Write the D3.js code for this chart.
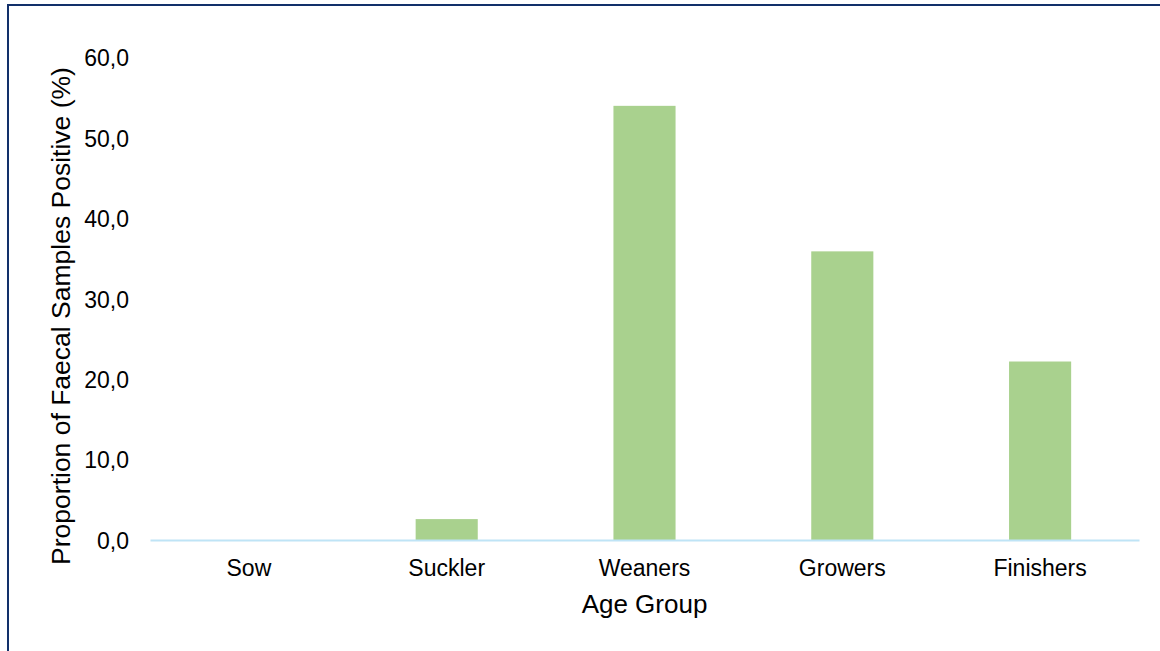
<!DOCTYPE html>
<html>
<head>
<meta charset="utf-8">
<script src="https://cdn.jsdelivr.net/npm/d3@7"></script>
<style>
  body { margin: 0; background: #fff; }
  text { font-family: "Liberation Sans", Arial, sans-serif; fill: #000; }
</style>
</head>
<body>
<div id="chart"></div>
<script>
// age groups and share of faecal samples positive (%)
var categories = ["Sow", "Suckler", "Weaners", "Growers", "Finishers"];
var values = [0.0, 2.6, 54.0, 35.9, 22.2];
var yTicks = [0, 10, 20, 30, 40, 50, 60];

var width = 1160, height = 651;
var margin = {left: 150, right: 21, top: 57.6, bottom: 111};

var svg = d3.select("#chart").append("svg")
  .attr("width", width)
  .attr("height", height);

// chart frame (runs off the right and bottom of the picture)
svg.append("rect")
  .attr("x", 8)
  .attr("y", 5)
  .attr("width", 1200)
  .attr("height", 700)
  .attr("fill", "none")
  .attr("stroke", "#12306a")
  .attr("stroke-width", 2);

var x = d3.scaleBand()
  .domain(categories)
  .range([margin.left, width - margin.right])
  .paddingInner(0.686)
  .paddingOuter(0.343);

var y = d3.scaleLinear()
  .domain([0, 60])
  .range([height - margin.bottom, margin.top]);

// bars
svg.selectAll(".bar")
  .data(values)
  .enter()
  .append("rect")
  .attr("class", "bar")
  .attr("x", (d, i) => x(categories[i]))
  .attr("y", d => y(d))
  .attr("width", x.bandwidth())
  .attr("height", d => y(0) - y(d))
  .attr("fill", "#a9d18e");

// y axis labels, no line
var yAxis = svg.append("g")
  .attr("transform", "translate(" + margin.left + ",0)")
  .call(d3.axisLeft(y).tickValues(yTicks).tickSize(0).tickPadding(21)
    .tickFormat(d => d3.format(".1f")(d).replace(".", ",")));
yAxis.select(".domain").remove();
yAxis.selectAll("text")
  .attr("font-size", 23)
  .attr("font-family", "Liberation Sans, Arial, sans-serif")
  .attr("dy", "0.36em");

// x axis
var xAxis = svg.append("g")
  .attr("transform", "translate(0," + y(0) + ")")
  .call(d3.axisBottom(x).tickSize(0).tickPadding(20));
xAxis.select(".domain")
  .attr("stroke", "#bfe4f6")
  .attr("stroke-width", 2);
xAxis.selectAll("text")
  .attr("font-size", 23)
  .attr("font-family", "Liberation Sans, Arial, sans-serif");

// axis titles
svg.append("text")
  .attr("x", (margin.left + width - margin.right) / 2)
  .attr("y", 613)
  .attr("text-anchor", "middle")
  .attr("font-size", 26)
  .text("Age Group");

svg.append("text")
  .attr("transform", "translate(70,316) rotate(-90)")
  .attr("text-anchor", "middle")
  .attr("font-size", 26.5)
  .text("Proportion of Faecal Samples Positive (%)");
</script>
</body>
</html>
